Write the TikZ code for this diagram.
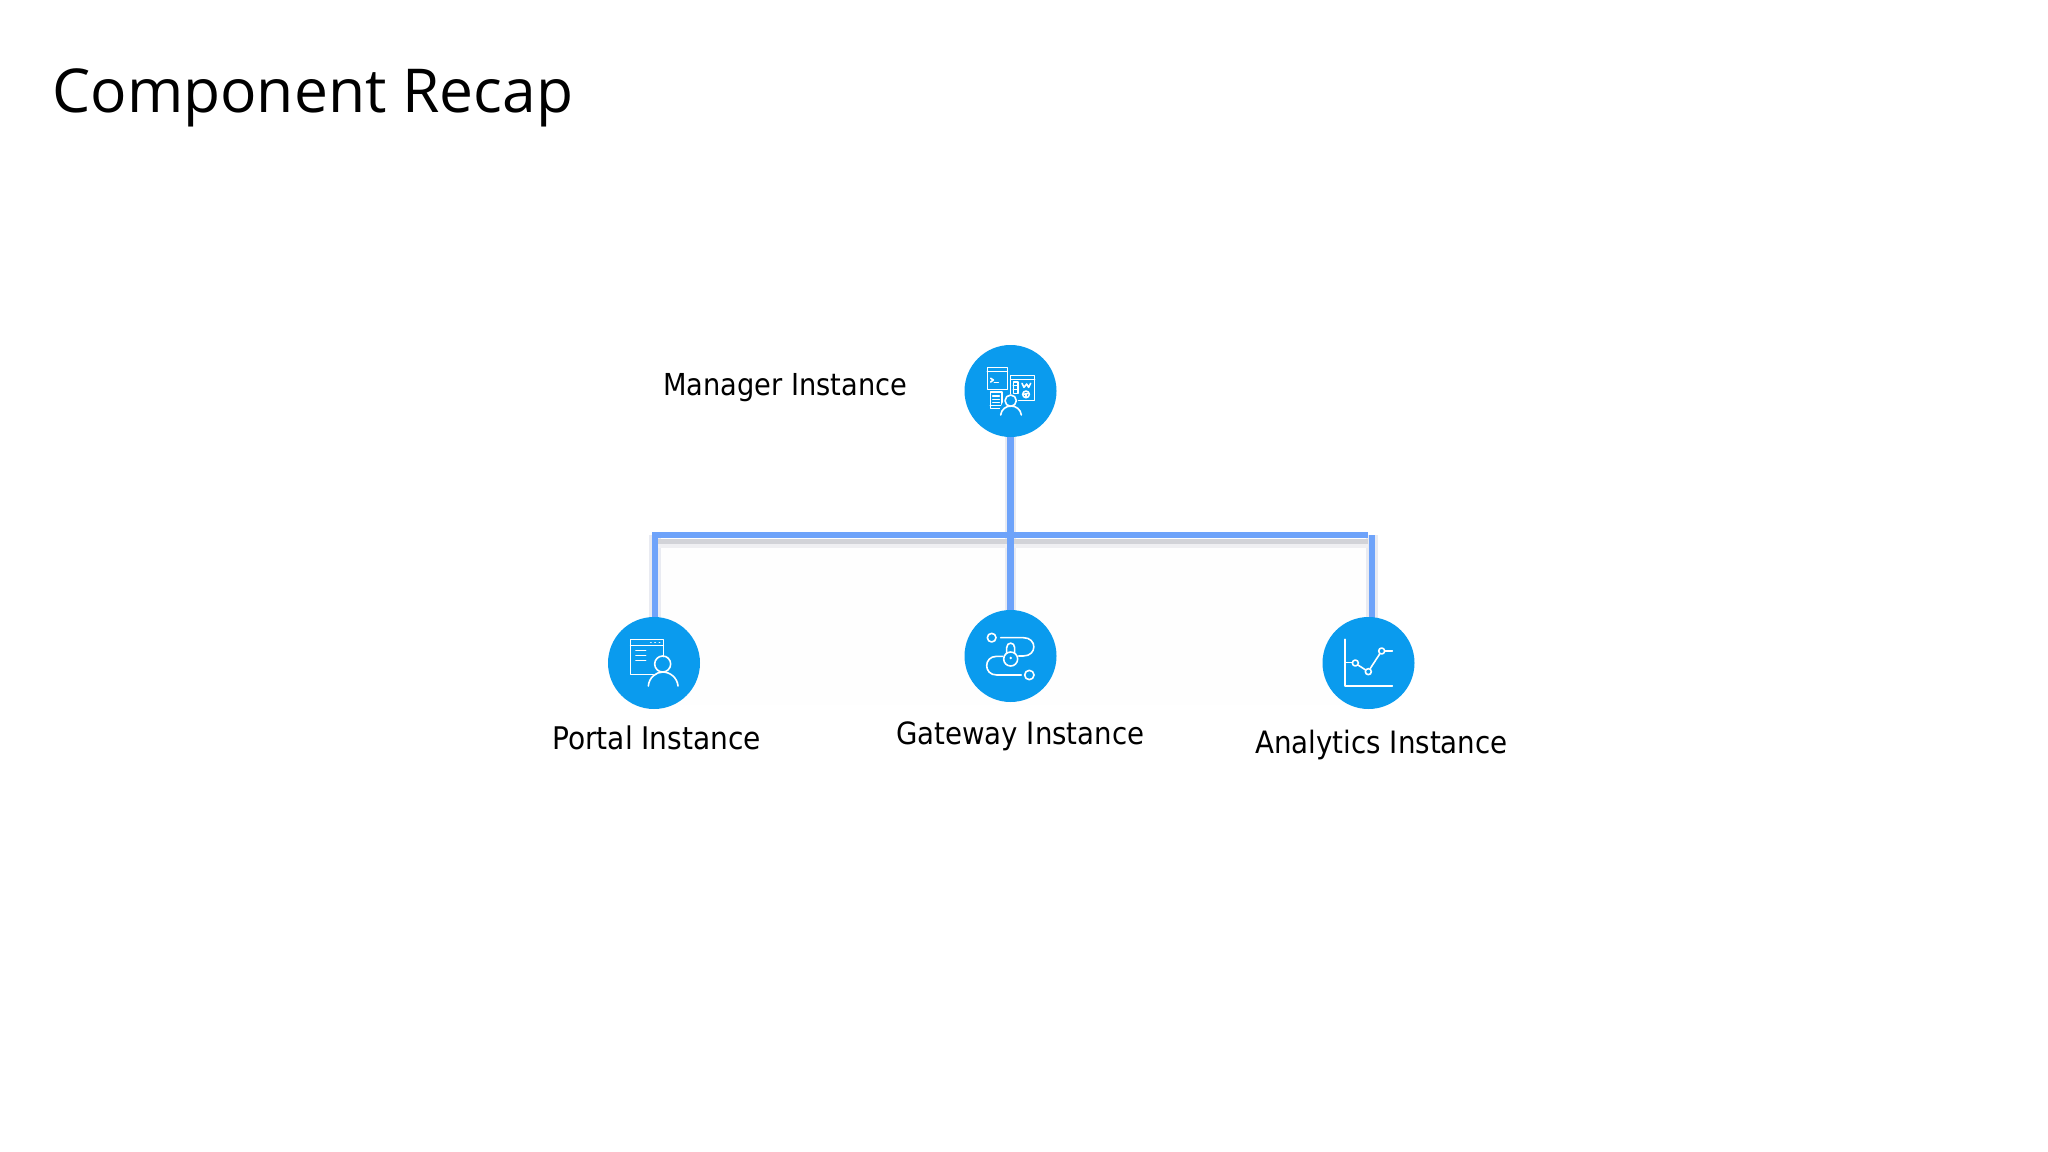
\documentclass[tikz,border=0pt]{standalone}
\usepackage{fontspec}
\usetikzlibrary{backgrounds}
\newfontfamily\titlefont{Open Sans}
\newfontfamily\labelfont{DejaVu Sans Condensed}
\definecolor{disc}{HTML}{0A9BEE}
\definecolor{link}{HTML}{6EA3FA}
\definecolor{shadeA}{HTML}{D2D3D8}
\definecolor{shadeB}{HTML}{EFEFF2}
\definecolor{shadeC}{HTML}{E9EBF2}
\definecolor{wash}{HTML}{FEFEFE}
\tikzset{
  x=0.75pt,y=-0.75pt,
  disc/.style={circle,fill=disc,draw=none,minimum size=69pt,inner sep=0pt},
  linkline/.style={draw=link,line width=4.8pt},
  barline/.style={draw=link,line width=5.2pt},
  halo/.style={draw=shadeC,line width=8.5pt},
  lbl/.style={anchor=base west,inner sep=0pt,text=black,font=\labelfont\fontsize{#1}{28}\selectfont},
  ttl/.style={anchor=base west,inner sep=0pt,text=black,font=\titlefont\fontsize{45.4}{55}\selectfont},
  ico/.style={draw=white,line width=1.2pt,line cap=round,line join=round},
}
\begin{document}
\begin{tikzpicture}
\useasboundingbox (0,0) rectangle (2048,1152);
\node[ttl] (title) at (52,113) {Component Recap};
\node[disc] (mgr) at (1010.5,391) {};
\node[disc] (portal) at (654,663) {};
\node[disc] (gw) at (1010.5,656) {};
\node[disc] (ana) at (1368.5,663) {};
\node[lbl=22.7] (lmgr) at (663,395) {Manager Instance};
\node[lbl=23.4] (lportal) at (552,749) {Portal Instance};
\node[lbl=23] (lgw) at (896,744) {Gateway Instance};
\node[lbl=23.1] (lana) at (1255,753) {Analytics Instance};
\coordinate (bl) at (652,535);
\coordinate (br) at (1368,535);
\coordinate (pt) at (655,535);
\coordinate (at) at (1372,535);
\coordinate (pb) at (655,625);
\coordinate (ab) at (1372,625);
\begin{pgfonlayer}{background}
\fill[white] (0,0) rectangle (2048,1152);
\fill[wash] (652,548) rectangle (1372,705);
\draw[halo] (mgr) -- (gw);
\draw[halo] (pt) -- (pb);
\draw[halo] (at) -- (ab);
\fill[shadeB] (652,539) rectangle (1368,548);
\fill[shadeA] (652,539) rectangle (1368,544);
\draw[linkline] (mgr) -- (gw);
\draw[linkline] (pt) -- (pb);
\draw[linkline] (at) -- (ab);
\draw[barline] (bl) -- (br);
\end{pgfonlayer}
% manager icon
\begin{scope}[shift={(940,330)},x=0.25pt,y=-0.25pt]
\draw[ico] (142,112) rectangle (202,178);
\draw[ico] (142,124) -- (202,124);
\draw[ico] (152,145) -- (160,150) -- (152,156);
\draw[ico] (163,157) -- (175,157);
\draw[ico] (212,136) rectangle (284,212);
\draw[ico] (212,148) -- (284,148);
\draw[ico] (220,156) rectangle (234,190);
\draw[ico] (220,167) -- (234,167) (220,178) -- (234,178);
\draw[ico] (246,160) -- (252,172) -- (260,162) -- (266,172) -- (272,160);
\draw[ico] (258,193) circle[radius=10];
\draw[ico] (251,193) -- (265,190) (258,193) -- (258,203);
\draw[ico] (151,186) rectangle (186,236);
\draw[ico] (158,198) -- (178,198) (158,208) -- (178,208) (158,218) -- (178,218);
\draw[ico] (151,227) -- (186,227);
\fill[disc] (180,260) -- (180,235) .. controls (190,215) and (195,195) .. (212,193) .. controls (230,195) and (240,215) .. (246,260) -- cycle;
\draw[ico] (212,212) circle[radius=17];
\draw[ico] (182,255) .. controls (184,238) and (198,228) .. (213,228) .. controls (228,228) and (242,238) .. (244,255);
\end{scope}
% portal icon
\begin{scope}[shift={(590,600)},x=0.25pt,y=-0.25pt]
\draw[ico] (190,223) -- (122,223) -- (122,118) -- (220,118) -- (220,170);
\draw[ico] (122,137) -- (220,137);
\draw[ico] (182,128) -- (183,128) (195,128) -- (196,128) (208,128) -- (209,128);
\draw[ico] (138,152) -- (167,152) (138,167) -- (167,167) (138,182) -- (167,182);
\draw[ico] (218,192) circle[radius=24];
\draw[ico] (175,258) .. controls (177,233) and (198,216) .. (218,216) .. controls (240,216) and (262,233) .. (264,258);
\end{scope}
% gateway icon
\begin{scope}[shift={(950,600)},x=0.25pt,y=-0.25pt]
\draw[ico] (125,113) circle[radius=13];
\draw[ico] (238,225) circle[radius=14];
\draw[ico] (152,113) -- (220,113) .. controls (262,113) and (262,168) .. (220,168) -- (206,168);
\draw[ico] (158,169) -- (140,169) .. controls (100,169) and (100,225) .. (140,225) -- (214,225);
\draw[ico] (182,177) circle[radius=21];
\draw[ico] (170,158) -- (170,143) .. controls (170,125) and (194,125) .. (194,143) -- (194,158);
\fill[white] (182,174) circle[radius=4];
\end{scope}
% analytics icon
\begin{scope}[shift={(1310,600)},x=0.25pt,y=-0.25pt]
\draw[ico] (105,118) -- (105,258) -- (247,258);
\draw[ico] (105,187) -- (127,187);
\draw[ico] (136,189) circle[radius=9];
\draw[ico] (175,215) circle[radius=9];
\draw[ico] (215,153) circle[radius=9];
\draw[ico] (144,195) -- (167,210);
\draw[ico] (181,205) -- (209,162);
\draw[ico] (224,153) -- (247,153);
\end{scope}
\end{tikzpicture}
\end{document}
